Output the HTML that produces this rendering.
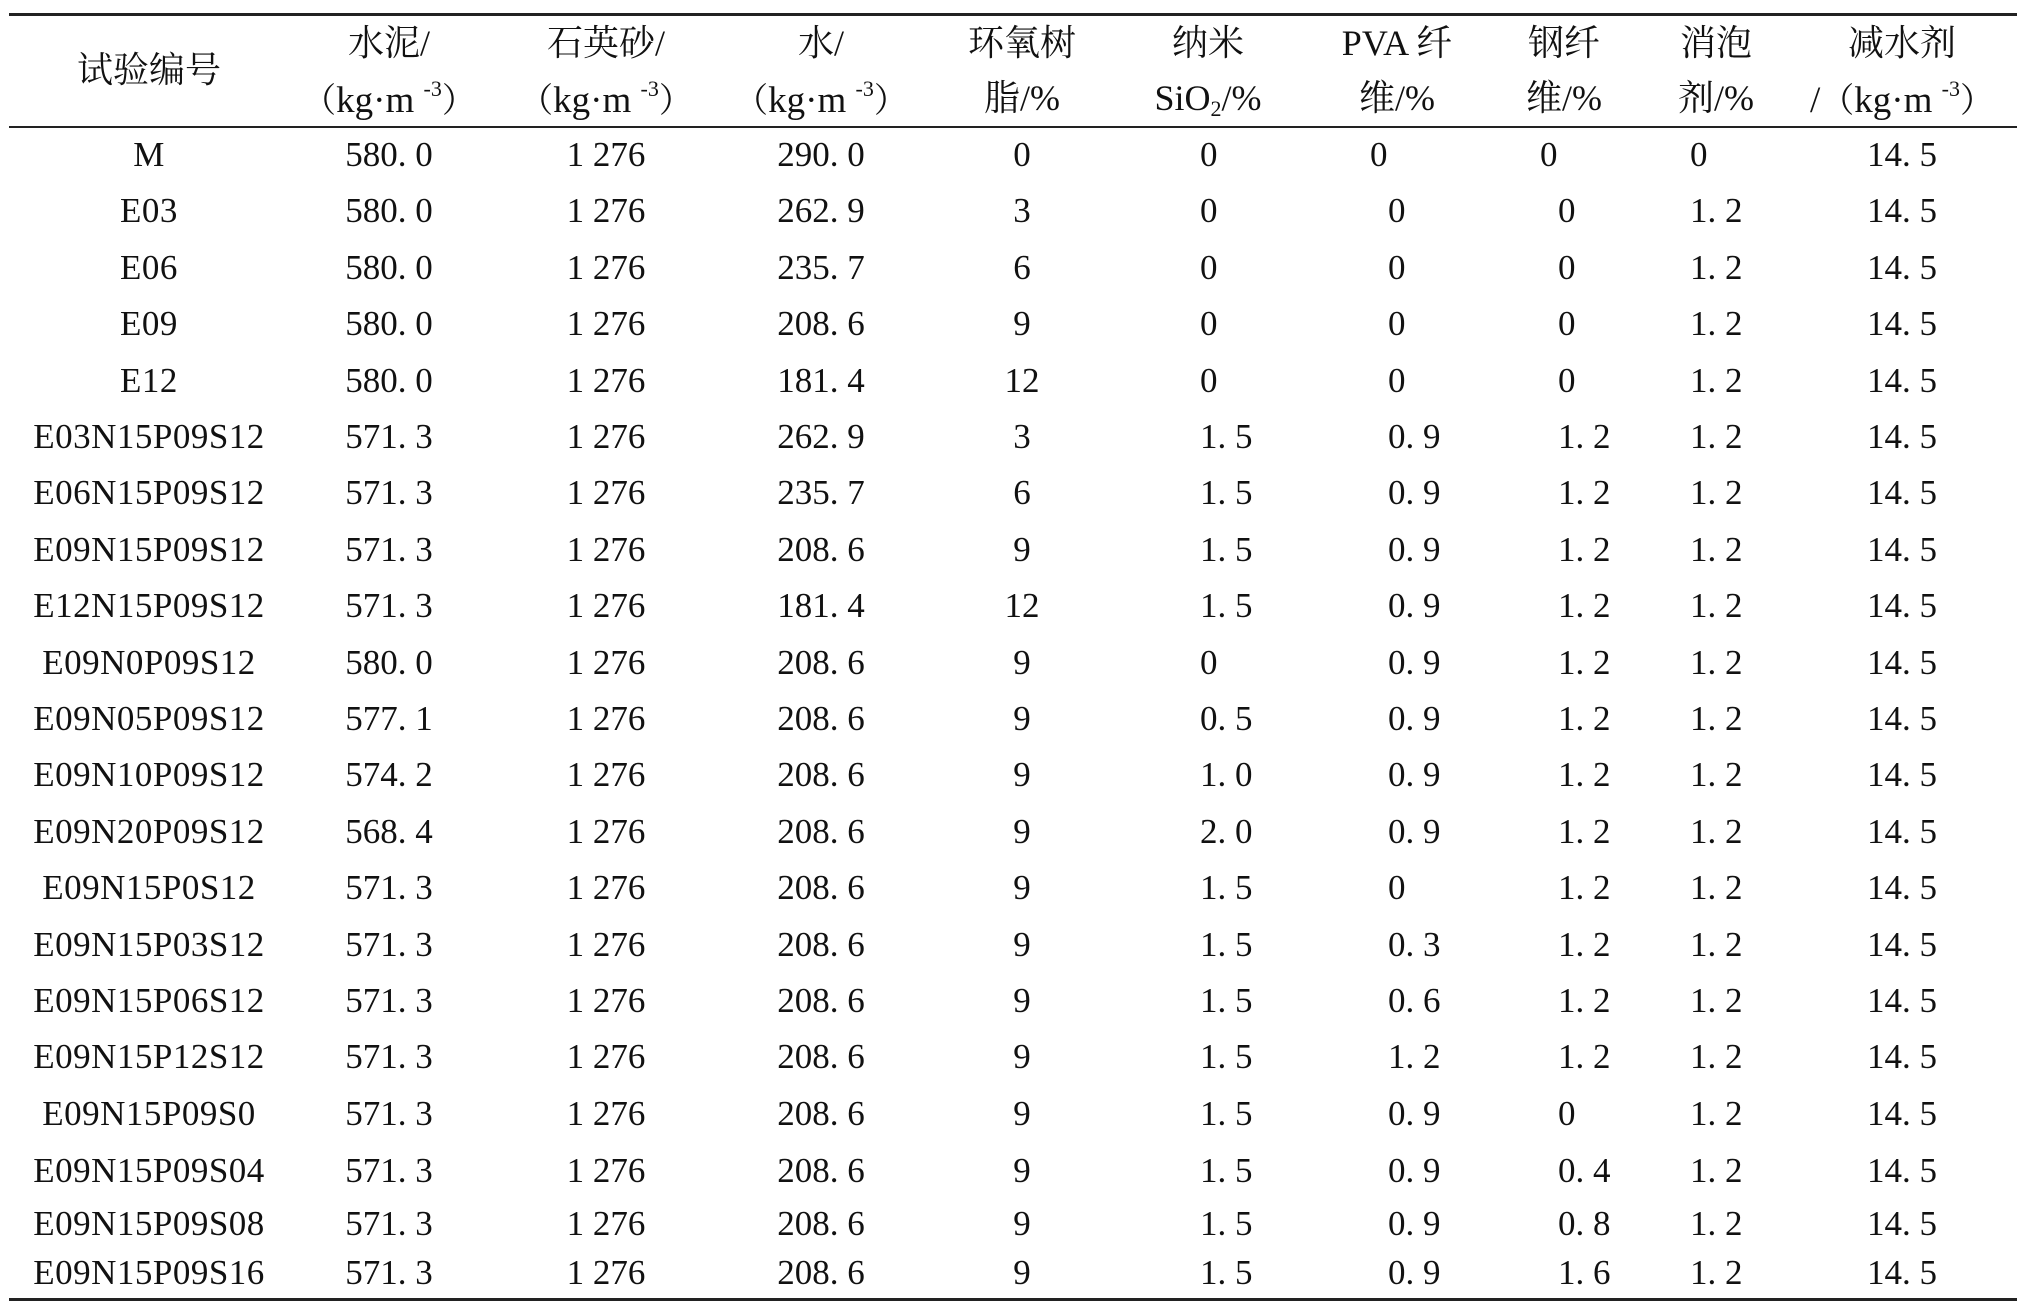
<!DOCTYPE html>
<html><head><meta charset="utf-8"><style>
body{margin:0;background:#fff;}
#p{position:relative;width:2032px;height:1312px;overflow:hidden;background:#fff;font-family:"Liberation Serif","Noto Serif CJK SC",serif;color:#111;}
.r{position:absolute;left:0;width:2032px;height:50px;line-height:50px;font-size:35px;white-space:pre;}
.r div{position:absolute;top:0;}
.a{left:-1px;width:300px;text-align:center;letter-spacing:0.5px}
.b{left:289px;width:200px;text-align:center}
.c{left:506px;width:200px;text-align:center}
.d{left:721px;width:200px;text-align:center}
.e{left:922px;width:200px;text-align:center}
.f{left:1200px}
.g{left:1388px}
.h{left:1558px}
.i{left:1690px}
.j{left:1802px;width:200px;text-align:center}
.rule{position:absolute;left:9px;width:2008px;background:#222;}
.hd{position:absolute;width:300px;text-align:center;font-size:36px;line-height:50px;white-space:pre;}
.hd .u{font-size:37px}
sup{font-size:22px;vertical-align:16px;line-height:0}
sub{font-size:22px;vertical-align:-6px;line-height:0}
.fp{font-family:"Noto Serif CJK SC",serif;font-size:34px}
</style></head><body><div id="p">
<div class="rule" style="top:13px;height:3px"></div>
<div class="rule" style="top:126px;height:2px"></div>
<div class="rule" style="top:1298px;height:3px"></div>

<div class="hd" style="left:-1px;top:45px">试验编号</div>
<div class="hd" style="left:239px;top:18px">水泥/</div>
<div class="hd" style="left:239px;top:73px"><span class="u"><span class="fp">（</span>kg·m <sup>-3</sup><span class="fp">）</span></span></div>
<div class="hd" style="left:456px;top:18px">石英砂/</div>
<div class="hd" style="left:456px;top:73px"><span class="u"><span class="fp">（</span>kg·m <sup>-3</sup><span class="fp">）</span></span></div>
<div class="hd" style="left:671px;top:18px">水/</div>
<div class="hd" style="left:671px;top:73px"><span class="u"><span class="fp">（</span>kg·m <sup>-3</sup><span class="fp">）</span></span></div>
<div class="hd" style="left:872px;top:18px">环氧树</div>
<div class="hd" style="left:872px;top:73px">脂/%</div>
<div class="hd" style="left:1058px;top:18px">纳米</div>
<div class="hd" style="left:1058px;top:73px">SiO<sub>2</sub>/%</div>
<div class="hd" style="left:1247px;top:18px">PVA 纤</div>
<div class="hd" style="left:1247px;top:73px">维/%</div>
<div class="hd" style="left:1414px;top:18px">钢纤</div>
<div class="hd" style="left:1414px;top:73px">维/%</div>
<div class="hd" style="left:1566px;top:18px">消泡</div>
<div class="hd" style="left:1566px;top:73px">剂/%</div>
<div class="hd" style="left:1752px;top:18px">减水剂</div>
<div class="hd" style="left:1752px;top:73px"><span class="u">/<span class="fp">（</span>kg·m <sup>-3</sup><span class="fp">）</span></span></div>

<div class="r" style="top:130px"><div class="a">M</div><div class="b">580. 0</div><div class="c">1 276</div><div class="d">290. 0</div><div class="e">0</div><div class="f">0</div><div class="g" style="left:1370px">0</div><div class="h" style="left:1540px">0</div><div class="i">0</div><div class="j">14. 5</div></div>
<div class="r" style="top:186px"><div class="a">E03</div><div class="b">580. 0</div><div class="c">1 276</div><div class="d">262. 9</div><div class="e">3</div><div class="f">0</div><div class="g">0</div><div class="h">0</div><div class="i">1. 2</div><div class="j">14. 5</div></div>
<div class="r" style="top:243px"><div class="a">E06</div><div class="b">580. 0</div><div class="c">1 276</div><div class="d">235. 7</div><div class="e">6</div><div class="f">0</div><div class="g">0</div><div class="h">0</div><div class="i">1. 2</div><div class="j">14. 5</div></div>
<div class="r" style="top:299px"><div class="a">E09</div><div class="b">580. 0</div><div class="c">1 276</div><div class="d">208. 6</div><div class="e">9</div><div class="f">0</div><div class="g">0</div><div class="h">0</div><div class="i">1. 2</div><div class="j">14. 5</div></div>
<div class="r" style="top:356px"><div class="a">E12</div><div class="b">580. 0</div><div class="c">1 276</div><div class="d">181. 4</div><div class="e">12</div><div class="f">0</div><div class="g">0</div><div class="h">0</div><div class="i">1. 2</div><div class="j">14. 5</div></div>
<div class="r" style="top:412px"><div class="a">E03N15P09S12</div><div class="b">571. 3</div><div class="c">1 276</div><div class="d">262. 9</div><div class="e">3</div><div class="f">1. 5</div><div class="g">0. 9</div><div class="h">1. 2</div><div class="i">1. 2</div><div class="j">14. 5</div></div>
<div class="r" style="top:468px"><div class="a">E06N15P09S12</div><div class="b">571. 3</div><div class="c">1 276</div><div class="d">235. 7</div><div class="e">6</div><div class="f">1. 5</div><div class="g">0. 9</div><div class="h">1. 2</div><div class="i">1. 2</div><div class="j">14. 5</div></div>
<div class="r" style="top:525px"><div class="a">E09N15P09S12</div><div class="b">571. 3</div><div class="c">1 276</div><div class="d">208. 6</div><div class="e">9</div><div class="f">1. 5</div><div class="g">0. 9</div><div class="h">1. 2</div><div class="i">1. 2</div><div class="j">14. 5</div></div>
<div class="r" style="top:581px"><div class="a">E12N15P09S12</div><div class="b">571. 3</div><div class="c">1 276</div><div class="d">181. 4</div><div class="e">12</div><div class="f">1. 5</div><div class="g">0. 9</div><div class="h">1. 2</div><div class="i">1. 2</div><div class="j">14. 5</div></div>
<div class="r" style="top:638px"><div class="a">E09N0P09S12</div><div class="b">580. 0</div><div class="c">1 276</div><div class="d">208. 6</div><div class="e">9</div><div class="f">0</div><div class="g">0. 9</div><div class="h">1. 2</div><div class="i">1. 2</div><div class="j">14. 5</div></div>
<div class="r" style="top:694px"><div class="a">E09N05P09S12</div><div class="b">577. 1</div><div class="c">1 276</div><div class="d">208. 6</div><div class="e">9</div><div class="f">0. 5</div><div class="g">0. 9</div><div class="h">1. 2</div><div class="i">1. 2</div><div class="j">14. 5</div></div>
<div class="r" style="top:750px"><div class="a">E09N10P09S12</div><div class="b">574. 2</div><div class="c">1 276</div><div class="d">208. 6</div><div class="e">9</div><div class="f">1. 0</div><div class="g">0. 9</div><div class="h">1. 2</div><div class="i">1. 2</div><div class="j">14. 5</div></div>
<div class="r" style="top:807px"><div class="a">E09N20P09S12</div><div class="b">568. 4</div><div class="c">1 276</div><div class="d">208. 6</div><div class="e">9</div><div class="f">2. 0</div><div class="g">0. 9</div><div class="h">1. 2</div><div class="i">1. 2</div><div class="j">14. 5</div></div>
<div class="r" style="top:863px"><div class="a">E09N15P0S12</div><div class="b">571. 3</div><div class="c">1 276</div><div class="d">208. 6</div><div class="e">9</div><div class="f">1. 5</div><div class="g">0</div><div class="h">1. 2</div><div class="i">1. 2</div><div class="j">14. 5</div></div>
<div class="r" style="top:920px"><div class="a">E09N15P03S12</div><div class="b">571. 3</div><div class="c">1 276</div><div class="d">208. 6</div><div class="e">9</div><div class="f">1. 5</div><div class="g">0. 3</div><div class="h">1. 2</div><div class="i">1. 2</div><div class="j">14. 5</div></div>
<div class="r" style="top:976px"><div class="a">E09N15P06S12</div><div class="b">571. 3</div><div class="c">1 276</div><div class="d">208. 6</div><div class="e">9</div><div class="f">1. 5</div><div class="g">0. 6</div><div class="h">1. 2</div><div class="i">1. 2</div><div class="j">14. 5</div></div>
<div class="r" style="top:1032px"><div class="a">E09N15P12S12</div><div class="b">571. 3</div><div class="c">1 276</div><div class="d">208. 6</div><div class="e">9</div><div class="f">1. 5</div><div class="g">1. 2</div><div class="h">1. 2</div><div class="i">1. 2</div><div class="j">14. 5</div></div>
<div class="r" style="top:1089px"><div class="a">E09N15P09S0</div><div class="b">571. 3</div><div class="c">1 276</div><div class="d">208. 6</div><div class="e">9</div><div class="f">1. 5</div><div class="g">0. 9</div><div class="h">0</div><div class="i">1. 2</div><div class="j">14. 5</div></div>
<div class="r" style="top:1146px"><div class="a">E09N15P09S04</div><div class="b">571. 3</div><div class="c">1 276</div><div class="d">208. 6</div><div class="e">9</div><div class="f">1. 5</div><div class="g">0. 9</div><div class="h">0. 4</div><div class="i">1. 2</div><div class="j">14. 5</div></div>
<div class="r" style="top:1199px"><div class="a">E09N15P09S08</div><div class="b">571. 3</div><div class="c">1 276</div><div class="d">208. 6</div><div class="e">9</div><div class="f">1. 5</div><div class="g">0. 9</div><div class="h">0. 8</div><div class="i">1. 2</div><div class="j">14. 5</div></div>
<div class="r" style="top:1248px"><div class="a">E09N15P09S16</div><div class="b">571. 3</div><div class="c">1 276</div><div class="d">208. 6</div><div class="e">9</div><div class="f">1. 5</div><div class="g">0. 9</div><div class="h">1. 6</div><div class="i">1. 2</div><div class="j">14. 5</div></div>
</div></body></html>
